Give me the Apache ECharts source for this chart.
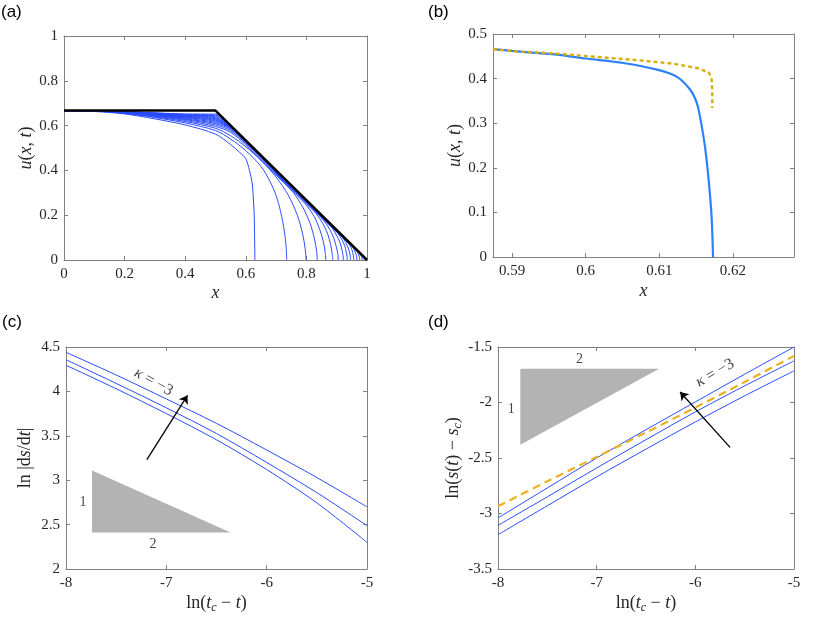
<!DOCTYPE html>
<html lang="en">
<head>
<meta charset="UTF-8">
<title>u(x,t) and ln plots</title>
<style>
    html, body {margin: 0; padding: 0; background: #fff;}
    #main {width: 831px; height: 618px;}
</style>
<script src="https://cdn.jsdelivr.net/npm/echarts@6/dist/echarts.min.js"></script>
</head>
<body>
<div id="main"></div>
<script>
// ---- panel (a): u(x,t) profiles, [x, u] pairs ----
var aCurves = [
    [[0,0.667],[0.1,0.663],[0.2,0.652],[0.3,0.630],[0.4,0.603],[0.5,0.562],[0.55,0.515],[0.58,0.48],[0.6,0.452],[0.612,0.40],[0.621,0.344],[0.626,0.25],[0.628,0.19],[0.63,0]],
    [[0,0.667],[0.1,0.665],[0.2,0.655],[0.3,0.636],[0.4,0.612],[0.5,0.578],[0.55,0.54],[0.6,0.488],[0.65,0.418],[0.68,0.35],[0.7,0.288],[0.715,0.215],[0.727,0.13],[0.733,0.06],[0.735,0]],
    [[0,0.667],[0.1,0.665],[0.2,0.656],[0.3,0.639],[0.4,0.618],[0.5,0.588],[0.55,0.555],[0.6,0.505],[0.65,0.445],[0.7,0.37],[0.74,0.29],[0.77,0.2],[0.787,0.12],[0.796,0.05],[0.799,0]],
    [[0,0.667],[0.1,0.665],[0.2,0.657],[0.3,0.642],[0.4,0.623],[0.5,0.596],[0.55,0.57],[0.6,0.513],[0.672,0.416],[0.713,0.361],[0.756,0.302],[0.788,0.236],[0.812,0.164],[0.826,0.098],[0.8335,0.042],[0.836,0]],
    [[0,0.667],[0.1,0.665],[0.2,0.658],[0.3,0.644],[0.4,0.627],[0.5,0.603],[0.55,0.577],[0.6,0.52],[0.65,0.453],[0.728,0.345],[0.762,0.298],[0.797,0.249],[0.825,0.196],[0.844,0.136],[0.856,0.082],[0.862,0.034],[0.864,0]],
    [[0,0.667],[0.1,0.666],[0.2,0.658],[0.3,0.646],[0.4,0.630],[0.5,0.609],[0.55,0.583],[0.6,0.524],[0.7,0.389],[0.774,0.286],[0.802,0.248],[0.832,0.207],[0.854,0.163],[0.871,0.113],[0.88,0.068],[0.885,0.029],[0.887,0]],
    [[0,0.667],[0.1,0.666],[0.2,0.659],[0.3,0.648],[0.4,0.633],[0.5,0.614],[0.55,0.587],[0.6,0.526],[0.7,0.39],[0.81,0.241],[0.834,0.209],[0.858,0.175],[0.877,0.137],[0.891,0.095],[0.899,0.057],[0.904,0.024],[0.905,0]],
    [[0,0.667],[0.1,0.666],[0.2,0.659],[0.3,0.649],[0.4,0.636],[0.5,0.619],[0.55,0.59],[0.6,0.527],[0.7,0.391],[0.8,0.258],[0.844,0.198],[0.864,0.172],[0.884,0.144],[0.899,0.112],[0.911,0.078],[0.917,0.047],[0.921,0.02],[0.922,0]],
    [[0,0.667],[0.1,0.666],[0.2,0.66],[0.3,0.65],[0.4,0.638],[0.5,0.623],[0.55,0.592],[0.6,0.528],[0.7,0.393],[0.8,0.26],[0.87,0.165],[0.886,0.143],[0.903,0.12],[0.916,0.094],[0.926,0.065],[0.931,0.039],[0.934,0.016],[0.935,0]],
    [[0,0.667],[0.1,0.666],[0.2,0.66],[0.3,0.651],[0.4,0.64],[0.5,0.627],[0.55,0.593],[0.6,0.529],[0.7,0.394],[0.8,0.262],[0.892,0.137],[0.906,0.119],[0.92,0.099],[0.93,0.078],[0.938,0.054],[0.943,0.032],[0.946,0]],
    [[0,0.667],[0.1,0.666],[0.2,0.661],[0.3,0.652],[0.4,0.642],[0.5,0.631],[0.55,0.594],[0.6,0.53],[0.7,0.395],[0.8,0.263],[0.914,0.109],[0.925,0.095],[0.936,0.079],[0.945,0.062],[0.951,0.043],[0.954,0.026],[0.957,0]],
    [[0,0.667],[0.1,0.666],[0.2,0.661],[0.3,0.653],[0.4,0.644],[0.5,0.635],[0.55,0.595],[0.6,0.53],[0.7,0.396],[0.8,0.264],[0.9,0.129],[0.934,0.084],[0.942,0.073],[0.951,0.061],[0.957,0.048],[0.962,0.033],[0.965,0.02],[0.967,0]],
    [[0,0.667],[0.1,0.666],[0.2,0.661],[0.3,0.654],[0.4,0.646],[0.5,0.639],[0.55,0.596],[0.6,0.531],[0.7,0.397],[0.8,0.264],[0.9,0.13],[0.952,0.061],[0.964,0.044],[0.969,0.035],[0.9725,0.024],[0.9746,0.014],[0.976,0]],
    [[0,0.667],[0.1,0.666],[0.2,0.662],[0.3,0.655],[0.4,0.648],[0.5,0.643],[0.55,0.597],[0.6,0.531],[0.7,0.398],[0.8,0.265],[0.9,0.131],[0.95,0.063],[0.968,0.04],[0.976,0.029],[0.979,0.023],[0.982,0.016],[0.984,0]],
    [[0,0.667],[0.1,0.666],[0.2,0.662],[0.3,0.656],[0.4,0.65],[0.5,0.647],[0.55,0.598],[0.6,0.532],[0.7,0.398],[0.8,0.266],[0.9,0.132],[0.95,0.064],[0.982,0.022],[0.9866,0.015],[0.989,0.009],[0.991,0]],
    [[0,0.667],[0.1,0.666],[0.2,0.663],[0.3,0.657],[0.4,0.652],[0.5,0.651],[0.55,0.599],[0.6,0.532],[0.7,0.399],[0.8,0.266],[0.9,0.132],[0.95,0.065],[0.98,0.025],[0.99,0.011],[0.994,0.005],[0.996,0]]
];
var aLimit = [[0, 0.667], [0.5, 0.667], [1, 0]];

// ---- panel (b) ----
var bSolution = [[0.5874,0.466],[0.59,0.462],[0.5936,0.457],[0.5961,0.4536],[0.6,0.445],[0.6051,0.435],[0.6097,0.42],[0.6124,0.404],[0.6142,0.375],[0.6151,0.345],[0.6156,0.308],[0.6162,0.248],[0.6167,0.173],[0.6171,0.091],[0.6173,0]];
var bApprox = [[0.5874,0.466],[0.5905,0.461],[0.5961,0.456],[0.6006,0.4498],[0.6074,0.4408],[0.6119,0.4334],[0.6151,0.4238],[0.6167,0.414],[0.6171,0.401],[0.6172,0.37],[0.6172,0.334]];

// ---- panel (c): ln|ds/dt| vs ln(tc - t) ----
var cX = [-8, -7.5, -7, -6.5, -6, -5.5, -5];
var cTop = [4.44, 4.185, 3.915, 3.64, 3.34, 3.03, 2.70];
var cMid = [4.357, 4.09, 3.815, 3.525, 3.20, 2.86, 2.488];
var cLow = [4.294, 4.03, 3.75, 3.455, 3.12, 2.745, 2.30];
var cTriangle = [[-7.74, 3.11], [-7.74, 2.41], [-6.36, 2.41]];
var cArrow = [[-7.194, 3.231], [-6.789, 3.955]];
var cNotes = [[-7.127, 4.106, 'kappa'], [-7.831, 2.75, '1'], [-7.134, 2.28, '2']];

// ---- panel (d): ln(s(t) - sc) vs ln(tc - t) ----
var dX = [-8, -7.5, -7, -6.5, -6, -5.5, -5];
var dTop = [-3.04, -2.77, -2.50, -2.245, -1.995, -1.745, -1.50];
var dMid = [-3.107, -2.85, -2.59, -2.335, -2.085, -1.85, -1.625];
var dLow = [-3.191, -2.93, -2.67, -2.42, -2.175, -1.94, -1.715];
var dApprox = [-2.935, -2.71, -2.49, -2.27, -2.045, -1.815, -1.58];
var dTriangle = [[-7.774, -1.695], [-7.774, -2.38], [-6.367, -1.695]];
var dArrow = [[-5.648, -2.404], [-6.154, -1.905]];
var dNotes = [[-5.80, -1.734, 'kappa'], [-7.865, -2.065, '1'], [-7.173, -1.614, '2']];

var serif = '"Liberation Serif", "DejaVu Serif", serif';
var axisGrey = '#808080';
var textDark = '#262626';
var blueThin = '#2a4bff';
var blueThick = '#2d80ff';
var yellow = '#EDB120';

function zip(xs, ys) {
    return xs.map(function (x, i) { return [x, ys[i]]; });
}

var nameStyle = {
    fontFamily: serif, fontSize: 18, color: textDark,
    rich: {
        i: {fontFamily: serif, fontSize: 18, fontStyle: 'italic', color: textDark},
        sub: {fontFamily: serif, fontSize: 12, fontStyle: 'italic', color: textDark, padding: [9, 0, 0, 0]}
    }
};

function makeAxes(dir, gi, min, max, interval, name, gap, fmt) {
    var common = {
        type: 'value', gridIndex: gi, min: min, max: max,
        splitLine: {show: false},
        axisLine: {show: true, onZero: false, lineStyle: {color: axisGrey, width: 1}},
        axisTick: {show: true, inside: true, length: 4, lineStyle: {color: axisGrey}}
    };
    if (interval) common.interval = interval; else common.splitNumber = 4;
    var main = Object.assign({}, common, {
        position: dir === 'x' ? 'bottom' : 'left',
        axisLabel: {fontFamily: serif, fontSize: 15, color: textDark, margin: dir === 'x' ? 7 : 6},
        name: name, nameLocation: 'middle', nameGap: gap, nameTextStyle: nameStyle
    });
    if (fmt) main.axisLabel.formatter = fmt;
    var other = Object.assign({}, common, {
        position: dir === 'x' ? 'top' : 'right',
        axisLabel: {show: false}
    });
    return [main, other];
}

var bFmt = function (v) {
    var r = Math.round(v * 100) / 100;
    return Math.abs(v - r) < 1e-6 ? String(r) : '';
};

var xAxes = [].concat(
    makeAxes('x', 0, 0, 1, 0.2, '{i|x}', 24),
    makeAxes('x', 1, 0.5874, 0.6283, null, '{i|x}', 25, bFmt),
    makeAxes('x', 2, -8, -5, 1, 'ln({i|t}{sub|c} − {i|t})', 24),
    makeAxes('x', 3, -8, -5, 1, 'ln({i|t}{sub|c} − {i|t})', 24)
);
var yAxes = [].concat(
    makeAxes('y', 0, 0, 1, 0.2, '{i|u}({i|x}, {i|t})', 29),
    makeAxes('y', 1, 0, 0.5, 0.1, '{i|u}({i|x}, {i|t})', 28),
    makeAxes('y', 2, 2, 4.5, 0.5, 'ln |d{i|s}/d{i|t}|', 32),
    makeAxes('y', 3, -3.5, -1.5, 0.5, 'ln({i|s}({i|t}) − {i|s}{sub|c})', 34)
);

function lineSeries(ax, data, color, width, extra) {
    return Object.assign({
        type: 'line', xAxisIndex: ax, yAxisIndex: ax, data: data,
        showSymbol: false, symbol: 'none', smooth: 0.3,
        lineStyle: {color: color, width: width}, silent: true
    }, extra || {});
}

function triangleSeries(ax, pts) {
    return {
        type: 'custom', xAxisIndex: ax, yAxisIndex: ax, data: pts, silent: true, z: 1,
        renderItem: function (params, api) {
            if (params.dataIndex > 0) return null;
            return {
                type: 'polygon',
                shape: {points: pts.map(function (p) { return api.coord(p); })},
                style: {fill: '#b3b3b3'}
            };
        }
    };
}

function arrowSeries(ax, pts) {
    return {
        type: 'lines', coordinateSystem: 'cartesian2d', xAxisIndex: ax, yAxisIndex: ax,
        symbol: ['none', 'arrow'], symbolSize: 8, silent: true, z: 5,
        lineStyle: {color: '#000', width: 1.3, opacity: 1},
        data: [{coords: pts}]
    };
}

function notesSeries(ax, notes, rot) {
    return {
        type: 'scatter', xAxisIndex: ax, yAxisIndex: ax, symbolSize: 0, silent: true, z: 6,
        data: notes.map(function (n) {
            var isK = n[2] === 'kappa';
            return {
                value: [n[0], n[1]],
                label: {
                    formatter: isK ? '{k|κ} = −3' : n[2],
                    rotate: isK ? rot : 0,
                    fontSize: isK ? 16 : 14
                }
            };
        }),
        label: {
            show: true, position: 'inside', color: '#111', fontFamily: serif,
            rich: {k: {fontFamily: serif, fontSize: 16, fontStyle: 'italic', color: '#111'}}
        }
    };
}

var series = [];
aCurves.forEach(function (c) {
    series.push(lineSeries(0, c, blueThin, 1));
});
series.push(lineSeries(0, aLimit, '#000', 2.5, {smooth: false, z: 4}));

series.push(lineSeries(2, bSolution, blueThick, 2.2));
series.push(lineSeries(2, bApprox, '#D9AE0A', 2.4, {smooth: false, lineStyle: {color: '#D9AE0A', width: 2.4, type: [4, 3]}}));

series.push(triangleSeries(4, cTriangle));
series.push(lineSeries(4, zip(cX, cTop), blueThin, 1));
series.push(lineSeries(4, zip(cX, cMid), blueThin, 1));
series.push(lineSeries(4, zip(cX, cLow), blueThin, 1));
series.push(arrowSeries(4, cArrow));
series.push(notesSeries(4, cNotes, -29));

series.push(triangleSeries(6, dTriangle));
series.push(lineSeries(6, zip(dX, dTop), blueThin, 1));
series.push(lineSeries(6, zip(dX, dMid), blueThin, 1));
series.push(lineSeries(6, zip(dX, dLow), blueThin, 1));
series.push(lineSeries(6, zip(dX, dApprox), yellow, 2.2, {lineStyle: {color: yellow, width: 2.2, type: [8, 5]}}));
series.push(arrowSeries(6, dArrow));
series.push(notesSeries(6, dNotes, 30));

var panelFont = '17px "Liberation Sans", Arial, sans-serif';

var myChart = echarts.init(document.getElementById('main'), null, {renderer: 'canvas'});
myChart.setOption({
    animation: false,
    backgroundColor: '#fff',
    grid: [
        {left: 64, top: 36, width: 303, height: 224, outerBoundsMode: 'none'},
        {left: 493, top: 34, width: 301, height: 223, outerBoundsMode: 'none'},
        {left: 66, top: 347, width: 301, height: 222, outerBoundsMode: 'none'},
        {left: 498, top: 347, width: 296, height: 222, outerBoundsMode: 'none'}
    ],
    xAxis: xAxes,
    yAxis: yAxes,
    series: series,
    graphic: [
        {type: 'text', left: 1, top: 4, style: {text: '(a)', font: panelFont, fill: '#000'}},
        {type: 'text', left: 428, top: 4, style: {text: '(b)', font: panelFont, fill: '#000'}},
        {type: 'text', left: 2, top: 314, style: {text: '(c)', font: panelFont, fill: '#000'}},
        {type: 'text', left: 428, top: 314, style: {text: '(d)', font: panelFont, fill: '#000'}}
    ]
});
</script>
</body>
</html>
